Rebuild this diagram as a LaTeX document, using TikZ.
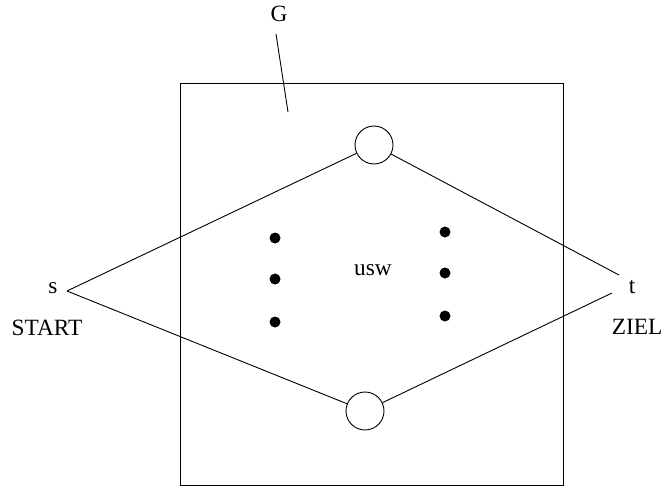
\documentclass[tikz,border=0pt]{standalone}
\usepackage{fontspec}
\setmainfont{Liberation Serif}
\usepackage{tikz}
\usetikzlibrary{positioning}
\tikzset{
  knoten/.style={circle, draw=black, line width=0.9pt, minimum size=38pt, inner sep=0pt, fill=white},
  punkt/.style={circle, fill=black, minimum size=11pt, inner sep=0pt},
  beschr/.style={font=\fontsize{23.3}{27}\selectfont, inner sep=1pt},
  kante/.style={draw=black, line width=0.9pt}
}

\begin{document}
\begin{tikzpicture}[x=1pt, y=-1pt]
\useasboundingbox (0,0) rectangle (664,503);

\draw[kante] (180,83) rectangle (563,485);

\node[beschr] (glabel) at (279,14) {G};
\coordinate (gend) at (288,112);
\draw[kante] (276,34) -- (gend);

\node[beschr] (s) at (53,288) {s};
\node[beschr] (start) at (47,328) {START};
\node[beschr] (t) at (632,287) {t};
\node[beschr] (ziel) at (637,327) {ZIEL};
\node[beschr] (usw) at (373,270) {usw};

\coordinate (sp) at (67,291);
\coordinate (tp1) at (619,275);
\coordinate (tp2) at (612,293);

\node[knoten] (oben) at (374,145) {};
\node[knoten] (unten) at (365,411) {};

\draw[kante] (sp) -- (oben);
\draw[kante] (sp) -- (unten);
\draw[kante] (oben) -- (tp1);
\draw[kante] (unten) -- (tp2);

\foreach \y [count=\i] in {238,279,322}
  \node[punkt] (links\i) at (275,\y) {};
\foreach \y [count=\i] in {232,273,316}
  \node[punkt] (rechts\i) at (445,\y) {};

\end{tikzpicture}
\end{document}
